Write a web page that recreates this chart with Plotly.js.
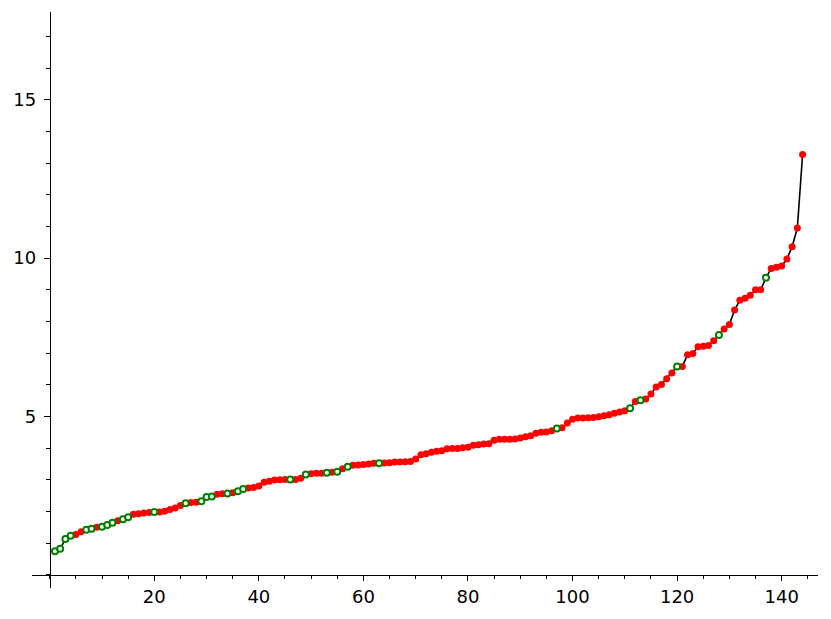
<!DOCTYPE html>
<html>
<head>
<meta charset="utf-8">
<script src="https://cdn.plot.ly/plotly-3.0.1.min.js"></script>
<style>
  html, body { margin: 0; padding: 0; background: #ffffff; }
  #chart { width: 831px; height: 619px; }
</style>
</head>
<body>
<div id="chart"></div>
<script>
// ------------------------------------------------------------------------------
// DATA (sorted values; index runs 1..N)

const values = [
    0.74, 0.82, 1.13, 1.23, 1.27, 1.36, 1.42, 1.45, 1.50, 1.52,
    1.57, 1.64, 1.71, 1.75, 1.82, 1.91, 1.93, 1.95, 1.97, 1.98,
    1.98, 2.01, 2.06, 2.11, 2.19, 2.26, 2.28, 2.29, 2.32, 2.46,
    2.47, 2.54, 2.56, 2.57, 2.59, 2.64, 2.71, 2.74, 2.76, 2.80,
    2.92, 2.95, 2.99, 3.00, 3.01, 3.01, 3.01, 3.05, 3.17, 3.19,
    3.21, 3.21, 3.22, 3.24, 3.25, 3.35, 3.41, 3.46, 3.47, 3.48,
    3.50, 3.52, 3.52, 3.53, 3.54, 3.56, 3.56, 3.57, 3.58, 3.66,
    3.79, 3.82, 3.87, 3.90, 3.92, 3.98, 3.99, 3.99, 4.01, 4.03,
    4.09, 4.11, 4.13, 4.14, 4.25, 4.28, 4.28, 4.28, 4.29, 4.32,
    4.36, 4.39, 4.47, 4.50, 4.51, 4.55, 4.62, 4.64, 4.79, 4.91,
    4.95, 4.95, 4.96, 4.97, 4.99, 5.02, 5.05, 5.10, 5.14, 5.18,
    5.26, 5.47, 5.51, 5.55, 5.71, 5.93, 6.01, 6.19, 6.37, 6.58,
    6.58, 6.95, 6.99, 7.20, 7.22, 7.24, 7.39, 7.57, 7.76, 7.90,
    8.36, 8.67, 8.73, 8.83, 9.00, 9.00, 9.38, 9.67, 9.71, 9.75,
    9.97, 10.36, 10.95, 13.27
];

// indices (1-based) drawn as hollow green circles, the rest are red dots
const green_idx = [
    1, 2, 3, 4, 7, 8, 10, 11, 12, 14, 15, 20, 26, 29, 30, 31, 34, 36, 37,
    46, 49, 53, 55, 57, 63, 97, 111, 113, 120, 128, 137
];

const x_ticks = [20, 40, 60, 80, 100, 120, 140];
const y_ticks = [5, 10, 15];

const font_family = '"DejaVu Sans", Verdana, sans-serif';
const label_size  = 18;

// ------------------------------------------------------------------------------
// TRACES

const xs = values.map((v, i) => i + 1);

const red_x = [], red_y = [], green_x = [], green_y = [];
for (let i = 0; i < values.length; i++) {
    if (green_idx.includes(i + 1)) {
        green_x.push(xs[i]);
        green_y.push(values[i]);
    } else {
        red_x.push(xs[i]);
        red_y.push(values[i]);
    }
}

const line_trace = {
    x: xs, y: values,
    mode: 'lines', type: 'scatter',
    line: { color: '#000000', width: 1.6 },
    hoverinfo: 'none', showlegend: false
};

const red_trace = {
    x: red_x, y: red_y,
    mode: 'markers', type: 'scatter',
    marker: { color: '#ff0000', size: 7, line: { width: 0 } },
    hoverinfo: 'none', showlegend: false
};

const green_trace = {
    x: green_x, y: green_y,
    mode: 'markers', type: 'scatter',
    marker: { color: '#ffffff', size: 6, line: { color: '#008000', width: 2 } },
    hoverinfo: 'none', showlegend: false
};

// ------------------------------------------------------------------------------
// LAYOUT (axes cross at the origin, like the original)

const x_range = [-3.39, 146.95];
const y_range = [-0.417, 17.77];

const layout = {
    width: 831,
    height: 619,
    margin: { l: 32, r: 13, t: 12, b: 31 },
    paper_bgcolor: '#ffffff',
    plot_bgcolor: '#ffffff',
    font: { family: font_family, size: label_size, color: '#000000' },
    xaxis: {
        range: x_range,
        anchor: 'free',
        position: (0 - y_range[0]) / (y_range[1] - y_range[0]),
        showgrid: false,
        zeroline: false,
        showline: true,
        linecolor: '#000000',
        linewidth: 1.3,
        tickmode: 'array',
        tickvals: x_ticks,
        ticktext: x_ticks.map(String),
        ticks: 'outside',
        ticklen: 5,
        tickwidth: 1,
        tickcolor: '#000000',
        tickfont: { family: font_family, size: label_size, color: '#000000' },
        minor: { tickmode: 'linear', tick0: 0, dtick: 5, ticks: 'outside', ticklen: 3, tickwidth: 1, tickcolor: '#000000', showgrid: false }
    },
    yaxis: {
        range: y_range,
        anchor: 'free',
        position: (0 - x_range[0]) / (x_range[1] - x_range[0]),
        showgrid: false,
        zeroline: false,
        showline: true,
        linecolor: '#000000',
        linewidth: 1.3,
        tickmode: 'array',
        tickvals: y_ticks,
        ticktext: y_ticks.map(String),
        ticks: 'outside',
        ticklen: 6,
        ticklabelstandoff: 4,
        tickwidth: 1,
        tickcolor: '#000000',
        tickfont: { family: font_family, size: label_size, color: '#000000' },
        minor: { tickmode: 'linear', tick0: 0, dtick: 1, ticks: 'outside', ticklen: 4, tickwidth: 1, tickcolor: '#000000', showgrid: false }
    }
};

Plotly.newPlot('chart', [line_trace, red_trace, green_trace], layout, { displayModeBar: false, staticPlot: true });
</script>
</body>
</html>
